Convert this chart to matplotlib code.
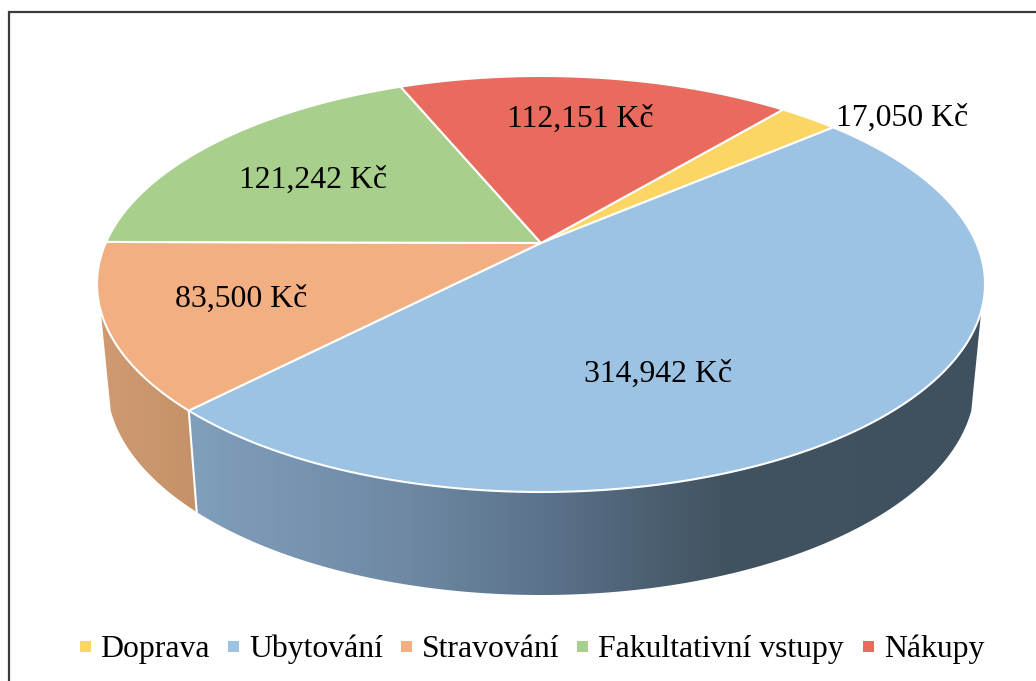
import numpy as np
import matplotlib
matplotlib.use('Agg')
import matplotlib.pyplot as plt
from matplotlib.patches import Polygon, Rectangle
from matplotlib.colors import LinearSegmentedColormap

# data
categories = ['Doprava', 'Ubytování', 'Stravování', 'Fakultativní vstupy', 'Nákupy']
values = [17050, 314942, 83500, 121242, 112151]
value_labels = ['17,050 Kč', '314,942 Kč', '83,500 Kč', '121,242 Kč', '112,151 Kč']
colors = ['#FCD664', '#9CC2E4', '#F2AF81', '#A9CF8C', '#E96B5E']

plt.rcParams['font.family'] = ['Liberation Serif', 'DejaVu Sans']

fig = plt.figure(figsize=(10.36, 6.81), dpi=100)
ax = fig.add_axes([0, 0, 1, 1])
ax.set_xlim(0, 1036)
ax.set_ylim(681, 0)
ax.axis('off')

# frame, only top and left are visible
ax.plot([9, 9, 1036], [681, 12, 12], color='#3C3C3C', lw=1.6, solid_joinstyle='miter')

# pie geometry (pixels)
cx = 541
top_cy, top_rx, top_ry = 284, 444, 208
low_cy, low_rx, low_ry = 383, 434, 212
tilt = 0.197  # moves the apex away from the ellipse centre
start_angle = 39.8


def project(deg, r, cy, rx, ry):
    # clockwise angle from 12 o'clock on the disc -> picture coordinates
    t = np.radians(deg)
    x = r * np.sin(t)
    y = r * np.cos(t)
    d = 1 + tilt * y
    X = x * np.sqrt(1 - tilt ** 2) / d
    Y = (y + tilt) / d
    return cx + rx * X, cy - ry * Y


shares = np.array(values) / sum(values) * 360
edges = start_angle + np.concatenate([[0], np.cumsum(shares)])


def wall(a0, a1, stops):
    # side of the pie between two disc angles, shaded left to right
    a = np.linspace(a0, a1, 200)
    xu, yu = project(a, 1, top_cy, top_rx, top_ry)
    xl, yl = project(a, 1, low_cy, low_rx, low_ry)
    pts = np.column_stack([np.r_[xu, xl[::-1]], np.r_[yu, yl[::-1]]])
    poly = Polygon(pts, closed=True, fc='none', ec='none', transform=ax.transData)
    ax.add_patch(poly)
    cmap = LinearSegmentedColormap.from_list('wall', stops)
    x0, x1 = pts[:, 0].min(), pts[:, 0].max()
    im = ax.imshow(np.linspace(0, 1, 256).reshape(1, -1), cmap=cmap, aspect='auto',
                   extent=[x0, x1, pts[:, 1].max(), pts[:, 1].min()], zorder=1)
    im.set_clip_path(poly)


ubyt_stops = [(0, '#809FBC'), (0.28, '#6E88A3'), (0.48, '#576E86'), (0.68, '#41525F'), (1, '#3F5060')]
strav_stops = [(0, '#D09A72'), (1, '#C49268')]
wall(edges[2], 251.4, strav_stops)
wall(108.6, edges[2], ubyt_stops)
ax.set_xlim(0, 1036)
ax.set_ylim(681, 0)

# seam between the two walls
xa, ya = project(edges[2], 1, top_cy, top_rx, top_ry)
xb, yb = project(edges[2], 1, low_cy, low_rx, low_ry)
ax.plot([xa, xb], [ya, yb], color='white', lw=1.5, zorder=2)

# top of the pie
for i in range(len(values)):
    a = np.linspace(edges[i], edges[i + 1], 200)
    x, y = project(a, 1, top_cy, top_rx, top_ry)
    ax_, ay_ = project(0.0, 0, top_cy, top_rx, top_ry)
    ax.add_patch(Polygon(np.column_stack([np.r_[ax_, x], np.r_[ay_, y]]), closed=True,
                         fc=colors[i], ec='white', lw=1.5, joinstyle='round', zorder=3))

# labels
label_x = [836, 584, 175, 239, 507]
label_y = [126, 382, 307, 188, 127]
for lx, ly, s in zip(label_x, label_y, value_labels):
    ax.text(lx, ly, s, fontsize=22.9, color='black', ha='left', va='baseline', zorder=5)

# legend
marker_x = [80, 228, 401, 577, 863]
text_x = [100, 249, 422, 598, 884]
for mx, tx, name, c in zip(marker_x, text_x, categories, colors):
    ax.add_patch(Rectangle((mx, 641), 11, 11, fc=c, ec='none', zorder=5))
    ax.text(tx, 657, name, fontsize=22.9, color='black', ha='left', va='baseline', zorder=5)

fig.savefig('out.png', dpi=100)
